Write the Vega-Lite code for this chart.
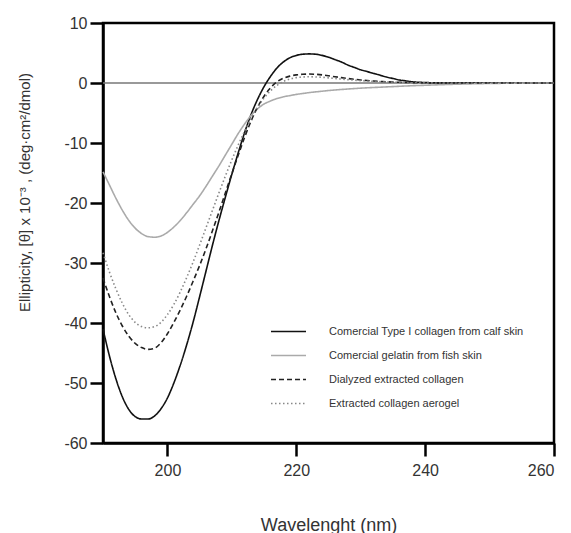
{
  "$schema": "https://vega.github.io/schema/vega-lite/v6.json",
  "autosize": "none",
  "width": 451,
  "height": 420,
  "padding": {"left": 103, "top": 23, "right": 17, "bottom": 90},
  "background": "white",
  "config": {
    "view": {"stroke": "black", "strokeWidth": 2.5},
    "axis": {
      "grid": false,
      "domainColor": "black",
      "domainWidth": 2.5,
      "tickColor": "black",
      "tickWidth": 2.5,
      "tickSize": 13,
      "labelFont": "Liberation Sans",
      "labelFontSize": 16,
      "labelColor": "#333",
      "titleFont": "Liberation Sans",
      "titleColor": "#333",
      "titleFontWeight": "normal"
    },
    "legend": {
      "orient": "none",
      "legendX": 167,
      "legendY": 290,
      "padding": 0,
      "symbolType": "stroke",
      "symbolSize": 1225,
      "symbolStrokeWidth": 1.6,
      "labelFont": "Liberation Sans",
      "labelFontSize": 11,
      "labelColor": "#333",
      "labelOffset": 22,
      "labelLimit": 300,
      "rowPadding": -9
    }
  },
  "layer": [
    {
      "data": {"values": [{}]},
      "mark": {"type": "rule", "color": "#777", "strokeWidth": 1.5},
      "encoding": {"y": {"datum": 0, "type": "quantitative", "scale": {"domain": [-60, 10], "nice": false, "zero": false}}}
    },
    {
      "data": {"values": [
        {"w":190,"a":-41,"b":-14.8,"c":-32.5,"d":-28.3},
        {"w":191,"a":-45.5,"b":-17,"c":-35.6,"d":-31.5},
        {"w":192,"a":-49.3,"b":-19.2,"c":-38.3,"d":-34.3},
        {"w":193,"a":-52.3,"b":-21.2,"c":-40.5,"d":-36.7},
        {"w":194,"a":-54.4,"b":-22.9,"c":-42.2,"d":-38.6},
        {"w":195,"a":-55.6,"b":-24.2,"c":-43.4,"d":-39.9},
        {"w":196,"a":-56,"b":-25.1,"c":-44.1,"d":-40.6},
        {"w":197,"a":-56,"b":-25.6,"c":-44.4,"d":-40.8},
        {"w":198,"a":-55.5,"b":-25.7,"c":-44.2,"d":-40.6},
        {"w":199,"a":-54.3,"b":-25.5,"c":-43.3,"d":-39.9},
        {"w":200,"a":-52.5,"b":-24.9,"c":-41.8,"d":-38.6},
        {"w":201,"a":-50,"b":-24,"c":-39.9,"d":-36.9},
        {"w":202,"a":-47,"b":-22.9,"c":-37.8,"d":-34.8},
        {"w":203,"a":-43.6,"b":-21.6,"c":-35.5,"d":-32.4},
        {"w":204,"a":-39.8,"b":-20.2,"c":-33,"d":-29.8},
        {"w":205,"a":-35.6,"b":-18.8,"c":-30.4,"d":-27},
        {"w":206,"a":-31.3,"b":-17.2,"c":-27.6,"d":-24.1},
        {"w":207,"a":-27,"b":-15.5,"c":-24.6,"d":-21.2},
        {"w":208,"a":-22.9,"b":-13.8,"c":-21.5,"d":-18.3},
        {"w":209,"a":-19,"b":-12,"c":-18.3,"d":-15.5},
        {"w":210,"a":-15.2,"b":-10.2,"c":-15.1,"d":-12.8},
        {"w":211,"a":-11.6,"b":-8.4,"c":-12,"d":-10.3},
        {"w":212,"a":-8.2,"b":-6.8,"c":-9,"d":-8},
        {"w":213,"a":-5.2,"b":-5.4,"c":-6.3,"d":-5.9},
        {"w":214,"a":-2.7,"b":-4.3,"c":-4,"d":-4},
        {"w":215,"a":-0.6,"b":-3.5,"c":-2.2,"d":-2.5},
        {"w":216,"a":1.1,"b":-3,"c":-0.8,"d":-1.3},
        {"w":217,"a":2.5,"b":-2.6,"c":0.2,"d":-0.4},
        {"w":218,"a":3.5,"b":-2.3,"c":0.8,"d":0.25},
        {"w":219,"a":4.2,"b":-2.1,"c":1.15,"d":0.65},
        {"w":220,"a":4.6,"b":-1.9,"c":1.35,"d":0.9},
        {"w":221,"a":4.8,"b":-1.75,"c":1.45,"d":1.0},
        {"w":222,"a":4.85,"b":-1.6,"c":1.5,"d":1.05},
        {"w":223,"a":4.8,"b":-1.48,"c":1.45,"d":1.0},
        {"w":224,"a":4.6,"b":-1.37,"c":1.35,"d":0.95},
        {"w":225,"a":4.3,"b":-1.26,"c":1.2,"d":0.85},
        {"w":226,"a":3.9,"b":-1.16,"c":1.05,"d":0.75},
        {"w":227,"a":3.5,"b":-1.08,"c":0.9,"d":0.65},
        {"w":228,"a":3.0,"b":-1.0,"c":0.75,"d":0.55},
        {"w":229,"a":2.6,"b":-0.93,"c":0.62,"d":0.47},
        {"w":230,"a":2.2,"b":-0.86,"c":0.5,"d":0.4},
        {"w":231,"a":1.9,"b":-0.8,"c":0.41,"d":0.33},
        {"w":232,"a":1.6,"b":-0.75,"c":0.33,"d":0.27},
        {"w":233,"a":1.3,"b":-0.7,"c":0.26,"d":0.22},
        {"w":234,"a":1.0,"b":-0.65,"c":0.2,"d":0.17},
        {"w":235,"a":0.75,"b":-0.6,"c":0.16,"d":0.13},
        {"w":236,"a":0.5,"b":-0.55,"c":0.12,"d":0.1},
        {"w":237,"a":0.35,"b":-0.5,"c":0.09,"d":0.07},
        {"w":238,"a":0.2,"b":-0.45,"c":0.06,"d":0.05},
        {"w":240,"a":0.08,"b":-0.38,"c":0.03,"d":0.02},
        {"w":242,"a":0.02,"b":-0.3,"c":0.01,"d":0.01},
        {"w":245,"a":0,"b":-0.2,"c":0,"d":0},
        {"w":250,"a":0,"b":-0.08,"c":0,"d":0},
        {"w":255,"a":0,"b":-0.02,"c":0,"d":0},
        {"w":260,"a":0,"b":0,"c":0,"d":0}
      ]},
      "transform": [{"fold": ["a", "b", "c", "d"], "as": ["s", "v"]}],
      "mark": {"type": "line", "interpolate": "monotone", "strokeWidth": 1.6},
      "encoding": {
        "x": {
          "field": "w", "type": "quantitative",
          "scale": {"domain": [190, 260], "nice": false, "zero": false},
          "axis": {
            "values": [200, 220, 240, 260],
            "labelPadding": 6,
            "title": "Wavelenght (nm)",
            "titleFontSize": 18,
            "titleBaseline": "alphabetic",
            "titleY": 87
          }
        },
        "y": {
          "field": "v", "type": "quantitative",
          "axis": {
            "values": [-60, -50, -40, -30, -20, -10, 0, 10],
            "labelExpr": "toString(datum.value)",
            "labelPadding": 3,
            "title": "Ellipticity, [θ] x 10⁻³ , (deg·cm²/dmol)",
            "titleFontSize": 15,
            "titleAngle": -90,
            "titleX": -79,
            "titleY": 169,
            "titleAlign": "center",
            "titleBaseline": "middle"
          }
        },
        "color": {
          "field": "s", "type": "nominal",
          "scale": {"domain": ["a", "b", "c", "d"], "range": ["#111111", "#aaaaaa", "#222222", "#888888"]},
          "legend": {"title": null, "labelExpr": "datum.label=='a'?'Comercial Type I collagen from calf skin':datum.label=='b'?'Comercial gelatin from fish skin':datum.label=='c'?'Dialyzed extracted collagen':'Extracted collagen aerogel'"}
        },
        "strokeDash": {
          "field": "s", "type": "nominal",
          "scale": {"domain": ["a", "b", "c", "d"], "range": [[1, 0], [1, 0], [5, 3], [1.5, 2.5]]},
          "legend": {"title": null, "labelExpr": "datum.label=='a'?'Comercial Type I collagen from calf skin':datum.label=='b'?'Comercial gelatin from fish skin':datum.label=='c'?'Dialyzed extracted collagen':'Extracted collagen aerogel'"}
        }
      }
    }
  ]
}
